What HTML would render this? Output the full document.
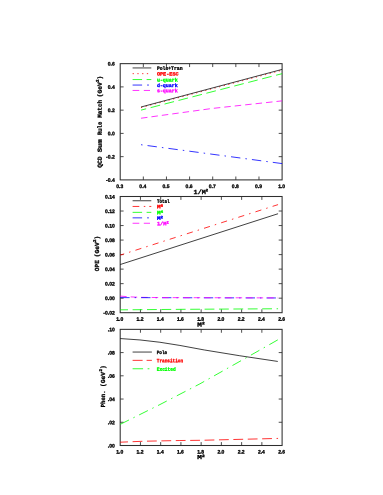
<!DOCTYPE html>
<html><head><meta charset="utf-8"><title>plot</title>
<style>
html,body{margin:0;padding:0;background:#fff;}
body{width:383px;height:495px;overflow:hidden;font-family:"Liberation Sans",sans-serif;}
svg{display:block;will-change:transform;transform:translateZ(0);}
</style></head><body>
<svg width="383" height="495" viewBox="0 0 383 495">
<rect width="383" height="495" fill="#ffffff"/>
<rect x="120.20" y="63.65" width="161.90" height="116.25" fill="none" stroke="#2e2e2e" stroke-width="1.05"/>
<text transform="translate(119.70,187.95) rotate(0.05)" x="0.00" y="0.00" font-size="5.0" text-anchor="middle" font-family="'Liberation Sans', sans-serif" font-weight="bold" fill="#000" stroke="#000" stroke-width="0.3" >0.3</text>
<line x1="143.33" y1="179.90" x2="143.33" y2="176.50" stroke="#2e2e2e" stroke-width="0.85"/>
<line x1="143.33" y1="63.65" x2="143.33" y2="67.05" stroke="#2e2e2e" stroke-width="0.85"/>
<text transform="translate(142.83,187.95) rotate(0.05)" x="0.00" y="0.00" font-size="5.0" text-anchor="middle" font-family="'Liberation Sans', sans-serif" font-weight="bold" fill="#000" stroke="#000" stroke-width="0.3" >0.4</text>
<line x1="166.46" y1="179.90" x2="166.46" y2="176.50" stroke="#2e2e2e" stroke-width="0.85"/>
<line x1="166.46" y1="63.65" x2="166.46" y2="67.05" stroke="#2e2e2e" stroke-width="0.85"/>
<text transform="translate(165.96,187.95) rotate(0.05)" x="0.00" y="0.00" font-size="5.0" text-anchor="middle" font-family="'Liberation Sans', sans-serif" font-weight="bold" fill="#000" stroke="#000" stroke-width="0.3" >0.5</text>
<line x1="189.59" y1="179.90" x2="189.59" y2="176.50" stroke="#2e2e2e" stroke-width="0.85"/>
<line x1="189.59" y1="63.65" x2="189.59" y2="67.05" stroke="#2e2e2e" stroke-width="0.85"/>
<text transform="translate(189.09,187.95) rotate(0.05)" x="0.00" y="0.00" font-size="5.0" text-anchor="middle" font-family="'Liberation Sans', sans-serif" font-weight="bold" fill="#000" stroke="#000" stroke-width="0.3" >0.6</text>
<line x1="212.71" y1="179.90" x2="212.71" y2="176.50" stroke="#2e2e2e" stroke-width="0.85"/>
<line x1="212.71" y1="63.65" x2="212.71" y2="67.05" stroke="#2e2e2e" stroke-width="0.85"/>
<text transform="translate(212.21,187.95) rotate(0.05)" x="0.00" y="0.00" font-size="5.0" text-anchor="middle" font-family="'Liberation Sans', sans-serif" font-weight="bold" fill="#000" stroke="#000" stroke-width="0.3" >0.7</text>
<line x1="235.84" y1="179.90" x2="235.84" y2="176.50" stroke="#2e2e2e" stroke-width="0.85"/>
<line x1="235.84" y1="63.65" x2="235.84" y2="67.05" stroke="#2e2e2e" stroke-width="0.85"/>
<text transform="translate(235.34,187.95) rotate(0.05)" x="0.00" y="0.00" font-size="5.0" text-anchor="middle" font-family="'Liberation Sans', sans-serif" font-weight="bold" fill="#000" stroke="#000" stroke-width="0.3" >0.8</text>
<line x1="258.97" y1="179.90" x2="258.97" y2="176.50" stroke="#2e2e2e" stroke-width="0.85"/>
<line x1="258.97" y1="63.65" x2="258.97" y2="67.05" stroke="#2e2e2e" stroke-width="0.85"/>
<text transform="translate(258.47,187.95) rotate(0.05)" x="0.00" y="0.00" font-size="5.0" text-anchor="middle" font-family="'Liberation Sans', sans-serif" font-weight="bold" fill="#000" stroke="#000" stroke-width="0.3" >0.9</text>
<text transform="translate(281.60,187.95) rotate(0.05)" x="0.00" y="0.00" font-size="5.0" text-anchor="middle" font-family="'Liberation Sans', sans-serif" font-weight="bold" fill="#000" stroke="#000" stroke-width="0.3" >1.0</text>
<text transform="translate(114.70,181.80) rotate(0.05)" x="0.00" y="0.00" font-size="5.0" text-anchor="end" font-family="'Liberation Sans', sans-serif" font-weight="bold" fill="#000" stroke="#000" stroke-width="0.3" >-0.4</text>
<line x1="120.20" y1="156.65" x2="123.60" y2="156.65" stroke="#2e2e2e" stroke-width="0.85"/>
<line x1="282.10" y1="156.65" x2="278.70" y2="156.65" stroke="#2e2e2e" stroke-width="0.85"/>
<text transform="translate(114.70,158.55) rotate(0.05)" x="0.00" y="0.00" font-size="5.0" text-anchor="end" font-family="'Liberation Sans', sans-serif" font-weight="bold" fill="#000" stroke="#000" stroke-width="0.3" >-0.2</text>
<line x1="120.20" y1="133.40" x2="123.60" y2="133.40" stroke="#2e2e2e" stroke-width="0.85"/>
<line x1="282.10" y1="133.40" x2="278.70" y2="133.40" stroke="#2e2e2e" stroke-width="0.85"/>
<text transform="translate(114.70,135.30) rotate(0.05)" x="0.00" y="0.00" font-size="5.0" text-anchor="end" font-family="'Liberation Sans', sans-serif" font-weight="bold" fill="#000" stroke="#000" stroke-width="0.3" >0.0</text>
<line x1="120.20" y1="110.15" x2="123.60" y2="110.15" stroke="#2e2e2e" stroke-width="0.85"/>
<line x1="282.10" y1="110.15" x2="278.70" y2="110.15" stroke="#2e2e2e" stroke-width="0.85"/>
<text transform="translate(114.70,112.05) rotate(0.05)" x="0.00" y="0.00" font-size="5.0" text-anchor="end" font-family="'Liberation Sans', sans-serif" font-weight="bold" fill="#000" stroke="#000" stroke-width="0.3" >0.2</text>
<line x1="120.20" y1="86.90" x2="123.60" y2="86.90" stroke="#2e2e2e" stroke-width="0.85"/>
<line x1="282.10" y1="86.90" x2="278.70" y2="86.90" stroke="#2e2e2e" stroke-width="0.85"/>
<text transform="translate(114.70,88.80) rotate(0.05)" x="0.00" y="0.00" font-size="5.0" text-anchor="end" font-family="'Liberation Sans', sans-serif" font-weight="bold" fill="#000" stroke="#000" stroke-width="0.3" >0.4</text>
<text transform="translate(114.70,65.55) rotate(0.05)" x="0.00" y="0.00" font-size="5.0" text-anchor="end" font-family="'Liberation Sans', sans-serif" font-weight="bold" fill="#000" stroke="#000" stroke-width="0.3" >0.6</text>
<path d="M141.02 110.13 L282.10 73.68" fill="none" stroke="#00ff00" stroke-width="0.8" stroke-dasharray="9.8 4.6" stroke-dashoffset="4.5" stroke-linecap="butt"/>
<path d="M141.02 118.23 L212.71 108.39 L282.10 100.87" fill="none" stroke="#ff00ff" stroke-width="0.8" stroke-dasharray="6.5 4" stroke-dashoffset="0" stroke-linecap="butt"/>
<path d="M141.02 144.72 L282.10 163.58" fill="none" stroke="#0000ff" stroke-width="0.8" stroke-dasharray="9.4 5.08 1.5 5.08" stroke-dashoffset="14.48" stroke-linecap="butt"/>
<path d="M141.02 107.58 L282.10 70.21" fill="none" stroke="#ff0000" stroke-width="0.8" stroke-dasharray="1.3 3.45" stroke-dashoffset="0" stroke-linecap="butt"/>
<path d="M141.02 107.01 L282.10 69.40" fill="none" stroke="#101010" stroke-width="0.8" stroke-linecap="butt"/>
<line x1="132.60" y1="67.95" x2="151.30" y2="67.95" stroke="#101010" stroke-width="0.8"/>
<text transform="translate(156.90,69.85) rotate(0.05)" x="0.00" y="0.00" font-size="5.0" text-anchor="start" font-family="'Liberation Mono', sans-serif" font-weight="bold" fill="#000" stroke="#000" stroke-width="0.32" textLength="25.60" lengthAdjust="spacingAndGlyphs" >Pole+Tran</text>
<line x1="132.60" y1="73.65" x2="151.30" y2="73.65" stroke="#ff0000" stroke-width="0.8" stroke-dasharray="1.3 3.45" stroke-dashoffset="0"/>
<text transform="translate(156.90,75.55) rotate(0.05)" x="0.00" y="0.00" font-size="5.0" text-anchor="start" font-family="'Liberation Mono', sans-serif" font-weight="bold" fill="#ff0000" stroke="#ff0000" stroke-width="0.32" textLength="21.70" lengthAdjust="spacingAndGlyphs" >OPE-ESC</text>
<line x1="132.60" y1="79.55" x2="151.30" y2="79.55" stroke="#00ff00" stroke-width="0.8" stroke-dasharray="9.5 4.5 6 20" stroke-dashoffset="0"/>
<text transform="translate(156.90,81.45) rotate(0.05)" x="0.00" y="0.00" font-size="5.0" text-anchor="start" font-family="'Liberation Mono', sans-serif" font-weight="bold" fill="#00ff00" stroke="#00ff00" stroke-width="0.32" textLength="20.90" lengthAdjust="spacingAndGlyphs" >u-quark</text>
<line x1="132.60" y1="85.05" x2="151.30" y2="85.05" stroke="#0000ff" stroke-width="0.8" stroke-dasharray="9.5 5 1.8 20" stroke-dashoffset="0"/>
<text transform="translate(156.90,86.95) rotate(0.05)" x="0.00" y="0.00" font-size="5.0" text-anchor="start" font-family="'Liberation Mono', sans-serif" font-weight="bold" fill="#0000ff" stroke="#0000ff" stroke-width="0.32" textLength="20.90" lengthAdjust="spacingAndGlyphs" >d-quark</text>
<line x1="132.60" y1="90.45" x2="151.30" y2="90.45" stroke="#ff00ff" stroke-width="0.8" stroke-dasharray="6.7 4.5 6.2 20" stroke-dashoffset="0"/>
<text transform="translate(156.90,92.35) rotate(0.05)" x="0.00" y="0.00" font-size="5.0" text-anchor="start" font-family="'Liberation Mono', sans-serif" font-weight="bold" fill="#ff00ff" stroke="#ff00ff" stroke-width="0.32" textLength="20.90" lengthAdjust="spacingAndGlyphs" >s-quark</text>
<text transform="translate(193.60,193.90) rotate(0.05)" x="0.00" y="0.00" font-size="6.2" text-anchor="start" font-family="'Liberation Mono', sans-serif" font-weight="bold" fill="#000" stroke="#000" stroke-width="0.3" textLength="14.60" lengthAdjust="spacingAndGlyphs" >1/M<tspan font-size="3.6" dy="-2.6">2</tspan></text>
<text transform="translate(101.70,167.80) rotate(-89.95)" x="0.00" y="0.00" font-size="6.2" text-anchor="start" font-family="'Liberation Mono', sans-serif" font-weight="bold" fill="#000" stroke="#000" stroke-width="0.3" textLength="11.50" lengthAdjust="spacingAndGlyphs" >QCD</text>
<text transform="translate(101.70,152.30) rotate(-89.95)" x="0.00" y="0.00" font-size="6.2" text-anchor="start" font-family="'Liberation Mono', sans-serif" font-weight="bold" fill="#000" stroke="#000" stroke-width="0.3" textLength="13.10" lengthAdjust="spacingAndGlyphs" >Sum</text>
<text transform="translate(101.70,135.00) rotate(-89.95)" x="0.00" y="0.00" font-size="6.2" text-anchor="start" font-family="'Liberation Mono', sans-serif" font-weight="bold" fill="#000" stroke="#000" stroke-width="0.3" textLength="13.20" lengthAdjust="spacingAndGlyphs" >Rule</text>
<text transform="translate(101.70,117.80) rotate(-89.95)" x="0.00" y="0.00" font-size="6.2" text-anchor="start" font-family="'Liberation Mono', sans-serif" font-weight="bold" fill="#000" stroke="#000" stroke-width="0.3" textLength="17.90" lengthAdjust="spacingAndGlyphs" >Match</text>
<text transform="translate(101.70,97.30) rotate(-89.95)" x="0.00" y="0.00" font-size="6.2" text-anchor="start" font-family="'Liberation Mono', sans-serif" font-weight="bold" fill="#000" stroke="#000" stroke-width="0.3" textLength="15.00" lengthAdjust="spacingAndGlyphs" >(GeV</text>
<text transform="translate(98.70,82.00) rotate(-89.95)" x="0.00" y="0.00" font-size="4.2" text-anchor="start" font-family="'Liberation Mono', sans-serif" font-weight="bold" fill="#000" stroke="#000" stroke-width="0.3" >2</text>
<text transform="translate(101.70,79.50) rotate(-89.95)" x="0.00" y="0.00" font-size="6.2" text-anchor="start" font-family="'Liberation Mono', sans-serif" font-weight="bold" fill="#000" stroke="#000" stroke-width="0.3" >)</text>
<rect x="120.20" y="196.50" width="161.90" height="116.20" fill="none" stroke="#2e2e2e" stroke-width="1.05"/>
<text transform="translate(119.70,320.75) rotate(0.05)" x="0.00" y="0.00" font-size="5.0" text-anchor="middle" font-family="'Liberation Sans', sans-serif" font-weight="bold" fill="#000" stroke="#000" stroke-width="0.3" >1.0</text>
<line x1="140.44" y1="312.70" x2="140.44" y2="309.30" stroke="#2e2e2e" stroke-width="0.85"/>
<line x1="140.44" y1="196.50" x2="140.44" y2="199.90" stroke="#2e2e2e" stroke-width="0.85"/>
<text transform="translate(139.94,320.75) rotate(0.05)" x="0.00" y="0.00" font-size="5.0" text-anchor="middle" font-family="'Liberation Sans', sans-serif" font-weight="bold" fill="#000" stroke="#000" stroke-width="0.3" >1.2</text>
<line x1="160.68" y1="312.70" x2="160.68" y2="309.30" stroke="#2e2e2e" stroke-width="0.85"/>
<line x1="160.68" y1="196.50" x2="160.68" y2="199.90" stroke="#2e2e2e" stroke-width="0.85"/>
<text transform="translate(160.18,320.75) rotate(0.05)" x="0.00" y="0.00" font-size="5.0" text-anchor="middle" font-family="'Liberation Sans', sans-serif" font-weight="bold" fill="#000" stroke="#000" stroke-width="0.3" >1.4</text>
<line x1="180.91" y1="312.70" x2="180.91" y2="309.30" stroke="#2e2e2e" stroke-width="0.85"/>
<line x1="180.91" y1="196.50" x2="180.91" y2="199.90" stroke="#2e2e2e" stroke-width="0.85"/>
<text transform="translate(180.41,320.75) rotate(0.05)" x="0.00" y="0.00" font-size="5.0" text-anchor="middle" font-family="'Liberation Sans', sans-serif" font-weight="bold" fill="#000" stroke="#000" stroke-width="0.3" >1.6</text>
<line x1="201.15" y1="312.70" x2="201.15" y2="309.30" stroke="#2e2e2e" stroke-width="0.85"/>
<line x1="201.15" y1="196.50" x2="201.15" y2="199.90" stroke="#2e2e2e" stroke-width="0.85"/>
<text transform="translate(200.65,320.75) rotate(0.05)" x="0.00" y="0.00" font-size="5.0" text-anchor="middle" font-family="'Liberation Sans', sans-serif" font-weight="bold" fill="#000" stroke="#000" stroke-width="0.3" >1.8</text>
<line x1="221.39" y1="312.70" x2="221.39" y2="309.30" stroke="#2e2e2e" stroke-width="0.85"/>
<line x1="221.39" y1="196.50" x2="221.39" y2="199.90" stroke="#2e2e2e" stroke-width="0.85"/>
<text transform="translate(220.89,320.75) rotate(0.05)" x="0.00" y="0.00" font-size="5.0" text-anchor="middle" font-family="'Liberation Sans', sans-serif" font-weight="bold" fill="#000" stroke="#000" stroke-width="0.3" >2.0</text>
<line x1="241.63" y1="312.70" x2="241.63" y2="309.30" stroke="#2e2e2e" stroke-width="0.85"/>
<line x1="241.63" y1="196.50" x2="241.63" y2="199.90" stroke="#2e2e2e" stroke-width="0.85"/>
<text transform="translate(241.13,320.75) rotate(0.05)" x="0.00" y="0.00" font-size="5.0" text-anchor="middle" font-family="'Liberation Sans', sans-serif" font-weight="bold" fill="#000" stroke="#000" stroke-width="0.3" >2.2</text>
<line x1="261.86" y1="312.70" x2="261.86" y2="309.30" stroke="#2e2e2e" stroke-width="0.85"/>
<line x1="261.86" y1="196.50" x2="261.86" y2="199.90" stroke="#2e2e2e" stroke-width="0.85"/>
<text transform="translate(261.36,320.75) rotate(0.05)" x="0.00" y="0.00" font-size="5.0" text-anchor="middle" font-family="'Liberation Sans', sans-serif" font-weight="bold" fill="#000" stroke="#000" stroke-width="0.3" >2.4</text>
<text transform="translate(281.60,320.75) rotate(0.05)" x="0.00" y="0.00" font-size="5.0" text-anchor="middle" font-family="'Liberation Sans', sans-serif" font-weight="bold" fill="#000" stroke="#000" stroke-width="0.3" >2.6</text>
<text transform="translate(114.70,314.60) rotate(0.05)" x="0.00" y="0.00" font-size="5.0" text-anchor="end" font-family="'Liberation Sans', sans-serif" font-weight="bold" fill="#000" stroke="#000" stroke-width="0.3" >-0.02</text>
<line x1="120.20" y1="298.18" x2="123.60" y2="298.18" stroke="#2e2e2e" stroke-width="0.85"/>
<line x1="282.10" y1="298.18" x2="278.70" y2="298.18" stroke="#2e2e2e" stroke-width="0.85"/>
<text transform="translate(114.70,300.07) rotate(0.05)" x="0.00" y="0.00" font-size="5.0" text-anchor="end" font-family="'Liberation Sans', sans-serif" font-weight="bold" fill="#000" stroke="#000" stroke-width="0.3" >0.00</text>
<line x1="120.20" y1="283.65" x2="123.60" y2="283.65" stroke="#2e2e2e" stroke-width="0.85"/>
<line x1="282.10" y1="283.65" x2="278.70" y2="283.65" stroke="#2e2e2e" stroke-width="0.85"/>
<text transform="translate(114.70,285.55) rotate(0.05)" x="0.00" y="0.00" font-size="5.0" text-anchor="end" font-family="'Liberation Sans', sans-serif" font-weight="bold" fill="#000" stroke="#000" stroke-width="0.3" >0.02</text>
<line x1="120.20" y1="269.12" x2="123.60" y2="269.12" stroke="#2e2e2e" stroke-width="0.85"/>
<line x1="282.10" y1="269.12" x2="278.70" y2="269.12" stroke="#2e2e2e" stroke-width="0.85"/>
<text transform="translate(114.70,271.02) rotate(0.05)" x="0.00" y="0.00" font-size="5.0" text-anchor="end" font-family="'Liberation Sans', sans-serif" font-weight="bold" fill="#000" stroke="#000" stroke-width="0.3" >0.04</text>
<line x1="120.20" y1="254.60" x2="123.60" y2="254.60" stroke="#2e2e2e" stroke-width="0.85"/>
<line x1="282.10" y1="254.60" x2="278.70" y2="254.60" stroke="#2e2e2e" stroke-width="0.85"/>
<text transform="translate(114.70,256.50) rotate(0.05)" x="0.00" y="0.00" font-size="5.0" text-anchor="end" font-family="'Liberation Sans', sans-serif" font-weight="bold" fill="#000" stroke="#000" stroke-width="0.3" >0.06</text>
<line x1="120.20" y1="240.07" x2="123.60" y2="240.07" stroke="#2e2e2e" stroke-width="0.85"/>
<line x1="282.10" y1="240.07" x2="278.70" y2="240.07" stroke="#2e2e2e" stroke-width="0.85"/>
<text transform="translate(114.70,241.97) rotate(0.05)" x="0.00" y="0.00" font-size="5.0" text-anchor="end" font-family="'Liberation Sans', sans-serif" font-weight="bold" fill="#000" stroke="#000" stroke-width="0.3" >0.08</text>
<line x1="120.20" y1="225.55" x2="123.60" y2="225.55" stroke="#2e2e2e" stroke-width="0.85"/>
<line x1="282.10" y1="225.55" x2="278.70" y2="225.55" stroke="#2e2e2e" stroke-width="0.85"/>
<text transform="translate(114.70,227.45) rotate(0.05)" x="0.00" y="0.00" font-size="5.0" text-anchor="end" font-family="'Liberation Sans', sans-serif" font-weight="bold" fill="#000" stroke="#000" stroke-width="0.3" >0.10</text>
<line x1="120.20" y1="211.02" x2="123.60" y2="211.02" stroke="#2e2e2e" stroke-width="0.85"/>
<line x1="282.10" y1="211.02" x2="278.70" y2="211.02" stroke="#2e2e2e" stroke-width="0.85"/>
<text transform="translate(114.70,212.92) rotate(0.05)" x="0.00" y="0.00" font-size="5.0" text-anchor="end" font-family="'Liberation Sans', sans-serif" font-weight="bold" fill="#000" stroke="#000" stroke-width="0.3" >0.12</text>
<text transform="translate(114.70,198.40) rotate(0.05)" x="0.00" y="0.00" font-size="5.0" text-anchor="end" font-family="'Liberation Sans', sans-serif" font-weight="bold" fill="#000" stroke="#000" stroke-width="0.3" >0.14</text>
<path d="M120.20 309.84 L180.91 309.34 L278.05 308.76" fill="none" stroke="#00ff00" stroke-width="0.8" stroke-dasharray="9.8 4.6" stroke-dashoffset="2.0" stroke-linecap="butt"/>
<clipPath id="cl"><rect x="100" y="280" width="52" height="30"/></clipPath><clipPath id="cr"><rect x="152" y="280" width="140" height="30"/></clipPath>
<g clip-path="url(#cl)">
<path d="M120.20 296.09 L130.32 296.89 L140.44 297.32 L160.68 297.61 L278.05 297.90" fill="none" stroke="#ff00ff" stroke-width="0.8" stroke-dasharray="6.5 4" stroke-dashoffset="0" stroke-linecap="butt"/>
<path d="M120.20 297.61 L278.05 297.97" fill="none" stroke="#0000ff" stroke-width="0.8" stroke-dasharray="9.4 5 1.5 5" stroke-dashoffset="0" stroke-linecap="butt"/>
</g><g clip-path="url(#cr)">
<path d="M120.20 297.61 L278.05 297.97" fill="none" stroke="#0000ff" stroke-width="0.8" stroke-dasharray="9.4 5 1.5 5" stroke-dashoffset="0" stroke-linecap="butt"/>
<path d="M120.20 296.09 L130.32 296.89 L140.44 297.32 L160.68 297.61 L278.05 297.90" fill="none" stroke="#ff00ff" stroke-width="0.8" stroke-dasharray="6.5 4" stroke-dashoffset="0" stroke-linecap="butt"/>
</g>
<path d="M120.20 255.13 L278.05 204.61" fill="none" stroke="#ff0000" stroke-width="0.8" stroke-dasharray="6.2 5.1 1.5 5.2" stroke-dashoffset="2.0" stroke-linecap="butt"/>
<path d="M120.20 264.54 L278.05 213.73" fill="none" stroke="#101010" stroke-width="0.8" stroke-linecap="butt"/>
<line x1="132.60" y1="200.75" x2="151.30" y2="200.75" stroke="#101010" stroke-width="0.8"/>
<text transform="translate(156.90,202.65) rotate(0.05)" x="0.00" y="0.00" font-size="5.0" text-anchor="start" font-family="'Liberation Mono', sans-serif" font-weight="bold" fill="#000" stroke="#000" stroke-width="0.32" textLength="12.50" lengthAdjust="spacingAndGlyphs" >Total</text>
<line x1="132.60" y1="206.45" x2="151.30" y2="206.45" stroke="#ff0000" stroke-width="0.8" stroke-dasharray="6.7 4.5 1.5 4 2.5 20" stroke-dashoffset="0"/>
<text transform="translate(156.90,208.35) rotate(0.05)" x="0.00" y="0.00" font-size="5.0" text-anchor="start" font-family="'Liberation Mono', sans-serif" font-weight="bold" fill="#ff0000" stroke="#ff0000" stroke-width="0.32" textLength="6.20" lengthAdjust="spacingAndGlyphs" >M<tspan font-size="3.6" dy="-1.6">6</tspan></text>
<line x1="132.60" y1="212.35" x2="151.30" y2="212.35" stroke="#00ff00" stroke-width="0.8" stroke-dasharray="9.5 4.5 6 20" stroke-dashoffset="0"/>
<text transform="translate(156.90,214.25) rotate(0.05)" x="0.00" y="0.00" font-size="5.0" text-anchor="start" font-family="'Liberation Mono', sans-serif" font-weight="bold" fill="#00ff00" stroke="#00ff00" stroke-width="0.32" textLength="6.20" lengthAdjust="spacingAndGlyphs" >M<tspan font-size="3.6" dy="-1.6">4</tspan></text>
<line x1="132.60" y1="217.85" x2="151.30" y2="217.85" stroke="#0000ff" stroke-width="0.8" stroke-dasharray="9.5 5 1.8 20" stroke-dashoffset="0"/>
<text transform="translate(156.90,219.75) rotate(0.05)" x="0.00" y="0.00" font-size="5.0" text-anchor="start" font-family="'Liberation Mono', sans-serif" font-weight="bold" fill="#0000ff" stroke="#0000ff" stroke-width="0.32" textLength="6.20" lengthAdjust="spacingAndGlyphs" >M<tspan font-size="3.6" dy="-1.6">2</tspan></text>
<line x1="132.60" y1="223.25" x2="151.30" y2="223.25" stroke="#ff00ff" stroke-width="0.8" stroke-dasharray="6.7 4.5 6.2 20" stroke-dashoffset="0"/>
<text transform="translate(156.90,225.15) rotate(0.05)" x="0.00" y="0.00" font-size="5.0" text-anchor="start" font-family="'Liberation Mono', sans-serif" font-weight="bold" fill="#ff00ff" stroke="#ff00ff" stroke-width="0.32" textLength="11.80" lengthAdjust="spacingAndGlyphs" >1/M<tspan font-size="3.6" dy="-1.6">2</tspan></text>
<text transform="translate(197.30,326.40) rotate(0.05)" x="0.00" y="0.00" font-size="6.0" text-anchor="start" font-family="'Liberation Mono', sans-serif" font-weight="bold" fill="#000" stroke="#000" stroke-width="0.3" textLength="7.40" lengthAdjust="spacingAndGlyphs" >M<tspan font-size="3.6" dy="-2.2">2</tspan></text>
<text transform="translate(99.00,271.20) rotate(-89.95)" x="0.00" y="0.00" font-size="6.2" text-anchor="start" font-family="'Liberation Mono', sans-serif" font-weight="bold" fill="#000" stroke="#000" stroke-width="0.3" textLength="11.00" lengthAdjust="spacingAndGlyphs" >OPE</text>
<text transform="translate(99.00,257.20) rotate(-89.95)" x="0.00" y="0.00" font-size="6.2" text-anchor="start" font-family="'Liberation Mono', sans-serif" font-weight="bold" fill="#000" stroke="#000" stroke-width="0.3" textLength="15.00" lengthAdjust="spacingAndGlyphs" >(GeV</text>
<text transform="translate(96.00,241.90) rotate(-89.95)" x="0.00" y="0.00" font-size="4.2" text-anchor="start" font-family="'Liberation Mono', sans-serif" font-weight="bold" fill="#000" stroke="#000" stroke-width="0.3" >2</text>
<text transform="translate(99.00,239.40) rotate(-89.95)" x="0.00" y="0.00" font-size="6.2" text-anchor="start" font-family="'Liberation Mono', sans-serif" font-weight="bold" fill="#000" stroke="#000" stroke-width="0.3" >)</text>
<rect x="120.20" y="329.35" width="161.90" height="116.15" fill="none" stroke="#2e2e2e" stroke-width="1.05"/>
<text transform="translate(119.70,453.55) rotate(0.05)" x="0.00" y="0.00" font-size="5.0" text-anchor="middle" font-family="'Liberation Sans', sans-serif" font-weight="bold" fill="#000" stroke="#000" stroke-width="0.3" >1.0</text>
<line x1="140.44" y1="445.50" x2="140.44" y2="442.10" stroke="#2e2e2e" stroke-width="0.85"/>
<line x1="140.44" y1="329.35" x2="140.44" y2="332.75" stroke="#2e2e2e" stroke-width="0.85"/>
<text transform="translate(139.94,453.55) rotate(0.05)" x="0.00" y="0.00" font-size="5.0" text-anchor="middle" font-family="'Liberation Sans', sans-serif" font-weight="bold" fill="#000" stroke="#000" stroke-width="0.3" >1.2</text>
<line x1="160.68" y1="445.50" x2="160.68" y2="442.10" stroke="#2e2e2e" stroke-width="0.85"/>
<line x1="160.68" y1="329.35" x2="160.68" y2="332.75" stroke="#2e2e2e" stroke-width="0.85"/>
<text transform="translate(160.18,453.55) rotate(0.05)" x="0.00" y="0.00" font-size="5.0" text-anchor="middle" font-family="'Liberation Sans', sans-serif" font-weight="bold" fill="#000" stroke="#000" stroke-width="0.3" >1.4</text>
<line x1="180.91" y1="445.50" x2="180.91" y2="442.10" stroke="#2e2e2e" stroke-width="0.85"/>
<line x1="180.91" y1="329.35" x2="180.91" y2="332.75" stroke="#2e2e2e" stroke-width="0.85"/>
<text transform="translate(180.41,453.55) rotate(0.05)" x="0.00" y="0.00" font-size="5.0" text-anchor="middle" font-family="'Liberation Sans', sans-serif" font-weight="bold" fill="#000" stroke="#000" stroke-width="0.3" >1.6</text>
<line x1="201.15" y1="445.50" x2="201.15" y2="442.10" stroke="#2e2e2e" stroke-width="0.85"/>
<line x1="201.15" y1="329.35" x2="201.15" y2="332.75" stroke="#2e2e2e" stroke-width="0.85"/>
<text transform="translate(200.65,453.55) rotate(0.05)" x="0.00" y="0.00" font-size="5.0" text-anchor="middle" font-family="'Liberation Sans', sans-serif" font-weight="bold" fill="#000" stroke="#000" stroke-width="0.3" >1.8</text>
<line x1="221.39" y1="445.50" x2="221.39" y2="442.10" stroke="#2e2e2e" stroke-width="0.85"/>
<line x1="221.39" y1="329.35" x2="221.39" y2="332.75" stroke="#2e2e2e" stroke-width="0.85"/>
<text transform="translate(220.89,453.55) rotate(0.05)" x="0.00" y="0.00" font-size="5.0" text-anchor="middle" font-family="'Liberation Sans', sans-serif" font-weight="bold" fill="#000" stroke="#000" stroke-width="0.3" >2.0</text>
<line x1="241.63" y1="445.50" x2="241.63" y2="442.10" stroke="#2e2e2e" stroke-width="0.85"/>
<line x1="241.63" y1="329.35" x2="241.63" y2="332.75" stroke="#2e2e2e" stroke-width="0.85"/>
<text transform="translate(241.13,453.55) rotate(0.05)" x="0.00" y="0.00" font-size="5.0" text-anchor="middle" font-family="'Liberation Sans', sans-serif" font-weight="bold" fill="#000" stroke="#000" stroke-width="0.3" >2.2</text>
<line x1="261.86" y1="445.50" x2="261.86" y2="442.10" stroke="#2e2e2e" stroke-width="0.85"/>
<line x1="261.86" y1="329.35" x2="261.86" y2="332.75" stroke="#2e2e2e" stroke-width="0.85"/>
<text transform="translate(261.36,453.55) rotate(0.05)" x="0.00" y="0.00" font-size="5.0" text-anchor="middle" font-family="'Liberation Sans', sans-serif" font-weight="bold" fill="#000" stroke="#000" stroke-width="0.3" >2.4</text>
<text transform="translate(281.60,453.55) rotate(0.05)" x="0.00" y="0.00" font-size="5.0" text-anchor="middle" font-family="'Liberation Sans', sans-serif" font-weight="bold" fill="#000" stroke="#000" stroke-width="0.3" >2.6</text>
<text transform="translate(114.70,447.40) rotate(0.05)" x="0.00" y="0.00" font-size="5.0" text-anchor="end" font-family="'Liberation Sans', sans-serif" font-weight="bold" fill="#000" stroke="#000" stroke-width="0.3" >.00</text>
<line x1="120.20" y1="422.27" x2="123.60" y2="422.27" stroke="#2e2e2e" stroke-width="0.85"/>
<line x1="282.10" y1="422.27" x2="278.70" y2="422.27" stroke="#2e2e2e" stroke-width="0.85"/>
<text transform="translate(114.70,424.17) rotate(0.05)" x="0.00" y="0.00" font-size="5.0" text-anchor="end" font-family="'Liberation Sans', sans-serif" font-weight="bold" fill="#000" stroke="#000" stroke-width="0.3" >.02</text>
<line x1="120.20" y1="399.04" x2="123.60" y2="399.04" stroke="#2e2e2e" stroke-width="0.85"/>
<line x1="282.10" y1="399.04" x2="278.70" y2="399.04" stroke="#2e2e2e" stroke-width="0.85"/>
<text transform="translate(114.70,400.94) rotate(0.05)" x="0.00" y="0.00" font-size="5.0" text-anchor="end" font-family="'Liberation Sans', sans-serif" font-weight="bold" fill="#000" stroke="#000" stroke-width="0.3" >.04</text>
<line x1="120.20" y1="375.81" x2="123.60" y2="375.81" stroke="#2e2e2e" stroke-width="0.85"/>
<line x1="282.10" y1="375.81" x2="278.70" y2="375.81" stroke="#2e2e2e" stroke-width="0.85"/>
<text transform="translate(114.70,377.71) rotate(0.05)" x="0.00" y="0.00" font-size="5.0" text-anchor="end" font-family="'Liberation Sans', sans-serif" font-weight="bold" fill="#000" stroke="#000" stroke-width="0.3" >.06</text>
<line x1="120.20" y1="352.58" x2="123.60" y2="352.58" stroke="#2e2e2e" stroke-width="0.85"/>
<line x1="282.10" y1="352.58" x2="278.70" y2="352.58" stroke="#2e2e2e" stroke-width="0.85"/>
<text transform="translate(114.70,354.48) rotate(0.05)" x="0.00" y="0.00" font-size="5.0" text-anchor="end" font-family="'Liberation Sans', sans-serif" font-weight="bold" fill="#000" stroke="#000" stroke-width="0.3" >.08</text>
<text transform="translate(114.70,331.25) rotate(0.05)" x="0.00" y="0.00" font-size="5.0" text-anchor="end" font-family="'Liberation Sans', sans-serif" font-weight="bold" fill="#000" stroke="#000" stroke-width="0.3" >.10</text>
<path d="M120.20 424.35 L159.95 404.55 L199.90 383.85 L248.04 356.75 L277.81 339.85" fill="none" stroke="#00ff00" stroke-width="0.8" stroke-dasharray="9.800 4.917 1.5 4.917" stroke-dashoffset="0" stroke-linecap="butt"/>
<path d="M120.20 442.20 L144.49 441.21 L179.90 440.52 L201.15 440.29 L278.05 438.43" fill="none" stroke="#ff0000" stroke-width="0.8" stroke-dasharray="9.8 4.6" stroke-dashoffset="2.0" stroke-linecap="butt"/>
<path d="M120.20 338.55 L139.98 339.95 L159.95 342.25 L179.93 345.45 L204.20 349.95 L239.85 355.75 L277.81 361.45" fill="none" stroke="#101010" stroke-width="0.8" stroke-linecap="butt"/>
<line x1="132.60" y1="352.05" x2="151.90" y2="352.05" stroke="#101010" stroke-width="0.8"/>
<text transform="translate(156.80,353.95) rotate(0.05)" x="0.00" y="0.00" font-size="5.0" text-anchor="start" font-family="'Liberation Mono', sans-serif" font-weight="bold" fill="#000" stroke="#000" stroke-width="0.32" textLength="10.30" lengthAdjust="spacingAndGlyphs" >Pole</text>
<line x1="132.60" y1="360.35" x2="151.90" y2="360.35" stroke="#ff0000" stroke-width="0.8" stroke-dasharray="10 4 5.3 20" stroke-dashoffset="0"/>
<text transform="translate(156.80,362.25) rotate(0.05)" x="0.00" y="0.00" font-size="5.0" text-anchor="start" font-family="'Liberation Mono', sans-serif" font-weight="bold" fill="#ff0000" stroke="#ff0000" stroke-width="0.32" textLength="26.30" lengthAdjust="spacingAndGlyphs" >Transition</text>
<line x1="132.60" y1="368.75" x2="151.90" y2="368.75" stroke="#00ff00" stroke-width="0.8" stroke-dasharray="10.5 4.5 1.8 20" stroke-dashoffset="0"/>
<text transform="translate(156.80,370.65) rotate(0.05)" x="0.00" y="0.00" font-size="5.0" text-anchor="start" font-family="'Liberation Mono', sans-serif" font-weight="bold" fill="#00ff00" stroke="#00ff00" stroke-width="0.32" textLength="18.80" lengthAdjust="spacingAndGlyphs" >Excited</text>
<text transform="translate(197.30,459.10) rotate(0.05)" x="0.00" y="0.00" font-size="6.0" text-anchor="start" font-family="'Liberation Mono', sans-serif" font-weight="bold" fill="#000" stroke="#000" stroke-width="0.3" textLength="7.40" lengthAdjust="spacingAndGlyphs" >M<tspan font-size="3.6" dy="-2.2">2</tspan></text>
<text transform="translate(105.00,407.30) rotate(-89.95)" x="0.00" y="0.00" font-size="6.2" text-anchor="start" font-family="'Liberation Mono', sans-serif" font-weight="bold" fill="#000" stroke="#000" stroke-width="0.3" textLength="16.80" lengthAdjust="spacingAndGlyphs" >Phen.</text>
<text transform="translate(105.00,386.90) rotate(-89.95)" x="0.00" y="0.00" font-size="6.2" text-anchor="start" font-family="'Liberation Mono', sans-serif" font-weight="bold" fill="#000" stroke="#000" stroke-width="0.3" textLength="15.00" lengthAdjust="spacingAndGlyphs" >(GeV</text>
<text transform="translate(102.00,371.60) rotate(-89.95)" x="0.00" y="0.00" font-size="4.2" text-anchor="start" font-family="'Liberation Mono', sans-serif" font-weight="bold" fill="#000" stroke="#000" stroke-width="0.3" >2</text>
<text transform="translate(105.00,369.10) rotate(-89.95)" x="0.00" y="0.00" font-size="6.2" text-anchor="start" font-family="'Liberation Mono', sans-serif" font-weight="bold" fill="#000" stroke="#000" stroke-width="0.3" >)</text>
</svg>
</body></html>
